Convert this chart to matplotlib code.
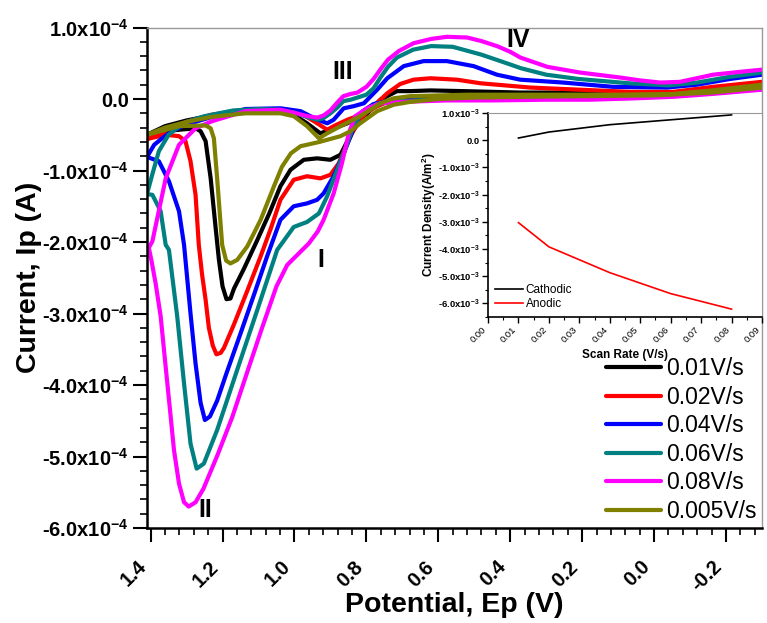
import numpy as np
import matplotlib
matplotlib.use("Agg")
import matplotlib.pyplot as plt
from matplotlib.ticker import MultipleLocator, FuncFormatter

plt.rcParams.update({
    "font.family": ["Liberation Sans", "DejaVu Sans"],
    "mathtext.fontset": "custom",
    "mathtext.rm": "Liberation Sans",
    "mathtext.bf": "Liberation Sans:bold",
    "mathtext.it": "Liberation Sans:italic",
    "mathtext.default": "bf",
})

SCALE = 1e-4  # currents below are in units of 1e-4 A

# ---- 0.01 V/s (black) ----
pot_001 = [-0.30, -0.16, -0.05, 0.10, 0.30, 0.372, 0.53, 0.622, 0.678, 0.715, 0.761, 0.798, 0.853, 0.90, 0.928,
           0.965, 1.002, 1.039, 1.136, 1.23, 1.30, 1.36, 1.41,
           1.36, 1.321, 1.275, 1.261, 1.247, 1.233, 1.219, 1.21, 1.20, 1.189, 1.178, 1.168, 1.141, 1.104, 1.07,
           1.039, 1.011, 0.974, 0.937, 0.90, 0.872, 0.853, 0.835, 0.81, 0.78, 0.75, 0.70, 0.60, 0.45, 0.30, 0.10,
           -0.05, -0.16, -0.30]
cur_001 = [0.23, 0.15, 0.09, 0.09, 0.09, 0.09, 0.11, 0.12, 0.11, 0.11, -0.01, -0.20, -0.34, -0.43, -0.48,
           -0.34, -0.22, -0.17, -0.17, -0.23, -0.30, -0.38, -0.50,
           -0.45, -0.43, -0.41, -0.45, -0.59, -1.11, -1.81, -2.25, -2.62, -2.80, -2.79, -2.65, -2.38, -1.98, -1.60,
           -1.22, -0.99, -0.85, -0.83, -0.85, -0.78, -0.59, -0.43, -0.25, -0.12, -0.05, -0.01, 0.01, 0.02, 0.03, 0.04,
           0.06, 0.10, 0.16]

# ---- 0.02 V/s (red) ----
pot_002 = [-0.30, -0.164, -0.053, 0.067, 0.206, 0.344, 0.483, 0.548, 0.622, 0.669, 0.706, 0.742, 0.78, 0.826,
           0.853, 0.891, 0.909, 0.946, 0.983, 1.039, 1.136, 1.23, 1.30, 1.35, 1.41,
           1.358, 1.321, 1.303, 1.289, 1.275, 1.266, 1.257, 1.247, 1.238, 1.227, 1.217, 1.205, 1.196, 1.168, 1.131,
           1.094, 1.065, 1.039, 1.002, 0.965, 0.928, 0.90, 0.877, 0.853, 0.84, 0.82, 0.80, 0.77, 0.74, 0.60, 0.45,
           0.30, 0.10, -0.05, -0.16, -0.30]
cur_002 = [0.24, 0.17, 0.10, 0.10, 0.13, 0.16, 0.22, 0.27, 0.29, 0.27, 0.21, 0.08, -0.10, -0.24,
           -0.29, -0.38, -0.43, -0.31, -0.20, -0.15, -0.15, -0.22, -0.32, -0.42, -0.56,
           -0.50, -0.52, -0.59, -0.87, -1.34, -2.04, -2.45, -2.81, -3.20, -3.45, -3.57, -3.55, -3.48, -3.15, -2.68,
           -2.20, -1.80, -1.41, -1.13, -1.08, -1.11, -1.06, -0.90, -0.62, -0.48, -0.30, -0.19, -0.10, -0.04, 0.00, 0.02,
           0.03, 0.04, 0.06, 0.10, 0.16]

# ---- 0.04 V/s (blue) ----
pot_004 = [-0.30, -0.211, -0.119, -0.036, 0.114, 0.253, 0.372, 0.437, 0.502, 0.576, 0.641, 0.696, 0.742, 0.77,
           0.807, 0.835, 0.863, 0.891, 0.909, 0.94, 0.983, 1.039, 1.136, 1.229, 1.303, 1.34, 1.368, 1.39, 1.41,
           1.377, 1.349, 1.321, 1.307, 1.289, 1.275, 1.261, 1.249, 1.235, 1.215, 1.19, 1.15, 1.11, 1.076, 1.039,
           1.002, 0.965, 0.937, 0.919, 0.891, 0.863, 0.844, 0.83, 0.81, 0.78, 0.74, 0.60, 0.45, 0.30, 0.10, -0.05,
           -0.16, -0.30]
cur_004 = [0.34, 0.28, 0.20, 0.16, 0.17, 0.23, 0.27, 0.34, 0.46, 0.53, 0.53, 0.46, 0.29, 0.13,
           -0.06, -0.10, -0.13, -0.29, -0.34, -0.28, -0.17, -0.13, -0.14, -0.25, -0.36, -0.45, -0.55, -0.64, -0.81,
           -0.87, -1.15, -1.57, -2.04, -3.00, -3.70, -4.25, -4.49, -4.44, -4.22, -3.85, -3.28, -2.70, -2.20, -1.69,
           -1.50, -1.46, -1.41, -1.32, -1.08, -0.76, -0.52, -0.33, -0.17, -0.07, -0.03, -0.01, 0.01, 0.02, 0.03, 0.05,
           0.09, 0.15]

# ---- 0.06 V/s (teal) ----
pot_006 = [-0.30, -0.21, -0.12, -0.04, 0.07, 0.21, 0.30, 0.37, 0.41, 0.48, 0.56, 0.62, 0.67, 0.715, 0.74, 0.761,
           0.78, 0.80, 0.825, 0.844, 0.864, 0.881, 0.90, 0.92, 0.936, 0.96, 1.00, 1.04, 1.10, 1.17, 1.25, 1.30, 1.32,
           1.35, 1.377, 1.395, 1.41,
           1.395, 1.372, 1.358, 1.349, 1.326, 1.307, 1.289, 1.272, 1.252, 1.215, 1.16, 1.10, 1.048, 1.002, 0.965,
           0.932, 0.909, 0.881, 0.853, 0.84, 0.82, 0.80, 0.77, 0.72, 0.60, 0.45, 0.30, 0.10, -0.05, -0.16, -0.30]
cur_006 = [0.37, 0.31, 0.23, 0.19, 0.22, 0.28, 0.34, 0.43, 0.50, 0.62, 0.73, 0.74, 0.69, 0.58, 0.45, 0.30,
           0.15, 0.06, 0.02, -0.01, -0.03, -0.12, -0.20, -0.27, -0.29, -0.26, -0.19, -0.15, -0.14, -0.16, -0.24, -0.32,
           -0.38, -0.50, -0.73, -1.05, -1.33,
           -1.34, -1.57, -2.04, -2.11, -3.04, -3.98, -4.82, -5.17, -5.10, -4.63, -3.80, -2.90, -2.11, -1.79, -1.72,
           -1.60, -1.36, -0.99, -0.62, -0.43, -0.25, -0.14, -0.07, -0.03, -0.01, 0.00, 0.01, 0.02, 0.04, 0.08, 0.14]

# ---- 0.08 V/s (magenta) ----
pot_008 = [-0.30, -0.239, -0.164, -0.072, -0.017, 0.039, 0.094, 0.206, 0.297, 0.372, 0.40, 0.437, 0.48, 0.52,
           0.576, 0.62, 0.669, 0.71, 0.74, 0.76, 0.78, 0.80, 0.825, 0.844, 0.864, 0.881, 0.90, 0.919, 0.936, 0.964,
           1.003, 1.039, 1.136, 1.229, 1.275, 1.321, 1.358, 1.395, 1.405,
           1.398, 1.386, 1.372, 1.358, 1.346, 1.335, 1.321, 1.307, 1.294, 1.275, 1.253, 1.214, 1.173, 1.13, 1.09,
           1.05, 1.02, 0.99, 0.96, 0.935, 0.919, 0.891, 0.868, 0.849, 0.831, 0.798, 0.761, 0.70, 0.575, 0.45, 0.30,
           0.18, 0.05, -0.05, -0.16, -0.30]
cur_008 = [0.41, 0.38, 0.34, 0.24, 0.23, 0.26, 0.30, 0.37, 0.45, 0.58, 0.66, 0.74, 0.81, 0.86,
           0.87, 0.84, 0.78, 0.67, 0.55, 0.42, 0.28, 0.17, 0.09, 0.07, 0.04, -0.05, -0.16, -0.23, -0.26, -0.24,
           -0.19, -0.15, -0.17, -0.31, -0.41, -0.64, -1.11, -1.99, -2.08,
           -2.25, -2.58, -3.04, -3.75, -4.35, -4.91, -5.38, -5.64, -5.70, -5.64, -5.45, -4.98, -4.45, -3.80, -3.20,
           -2.62, -2.32, -2.17, -2.02, -1.85, -1.69, -1.32, -0.90, -0.48, -0.24, -0.13, -0.06, -0.04, -0.02, -0.02,
           -0.01, -0.01, 0.01, 0.03, 0.07, 0.13]

# ---- 0.005 V/s (olive) ----
pot_0005 = [-0.30, -0.16, -0.05, 0.10, 0.30, 0.45, 0.52, 0.60, 0.678, 0.724, 0.761, 0.817, 0.872, 0.909, 0.932,
            0.965, 1.002, 1.039, 1.136, 1.23, 1.30, 1.36, 1.41,
            1.321, 1.247, 1.233, 1.224, 1.215, 1.201, 1.19, 1.178, 1.159, 1.131, 1.094, 1.057, 1.035, 1.01, 0.983,
            0.93, 0.872, 0.844, 0.817, 0.77, 0.724, 0.678, 0.60, 0.50, 0.37, 0.20, 0.00, -0.16, -0.30]
cur_0005 = [0.20, 0.12, 0.07, 0.06, 0.06, 0.06, 0.06, 0.05, 0.04, 0.01, -0.06, -0.24, -0.38, -0.48, -0.55,
            -0.38, -0.24, -0.20, -0.20, -0.25, -0.32, -0.40, -0.50,
            -0.38, -0.37, -0.41, -0.55, -1.11, -2.04, -2.26, -2.30, -2.25, -2.06, -1.69, -1.22, -0.95, -0.76, -0.66,
            -0.60, -0.52, -0.45, -0.34, -0.17, -0.08, -0.04, 0.00, 0.02, 0.03, 0.04, 0.05, 0.09, 0.16]

labels = ["0.01V/s", "0.02V/s", "0.04V/s", "0.06V/s", "0.08V/s", "0.005V/s"]
colors = ["#000000", "#ff0000", "#0000ff", "#008080", "#ff00ff", "#808000"]
pots = [pot_001, pot_002, pot_004, pot_006, pot_008, pot_0005]
curs = [cur_001, cur_002, cur_004, cur_006, cur_008, cur_0005]

# ---- inset data ----
scan_rate = [0.01, 0.02, 0.04, 0.06, 0.08]
cathodic = [0.08e-3, 0.30e-3, 0.57e-3, 0.75e-3, 0.93e-3]
anodic = [-3.03e-3, -3.92e-3, -4.87e-3, -5.64e-3, -6.21e-3]

peak_labels = ["I", "II", "III", "IV"]
peak_pos = [(0.928, -2.25), (1.247, -5.75), (0.867, 0.38), (0.378, 0.83)]

W, H = 767, 623
fig = plt.figure(figsize=(W / 100, H / 100), dpi=100)
ax = fig.add_axes([147 / W, 1 - 528 / H, (762 - 147) / W, (528 - 27.5) / H])

for p, c, lab, col in zip(pots, curs, labels, colors):
    ax.plot(p, np.array(c) * SCALE, color=col, lw=3, label=lab, solid_joinstyle="round", solid_capstyle="round")

ax.set_xlim(1.41, -0.30)
ax.set_ylim(-6e-4, 1e-4)

ax.xaxis.set_major_locator(MultipleLocator(0.2))
ax.xaxis.set_minor_locator(MultipleLocator(0.04))
ax.yaxis.set_major_locator(MultipleLocator(1e-4))
ax.yaxis.set_minor_locator(MultipleLocator(0.2e-4))


def xfmt(v, pos):
    s = f"{v:.1f}"
    return "0.0" if s == "-0.0" else s


def yfmt(v, pos):
    m = v / 1e-4
    if abs(m) < 1e-9:
        return "0.0"
    return f"{m:.1f}x10$^{{-4}}$"


ax.xaxis.set_major_formatter(FuncFormatter(xfmt))
ax.yaxis.set_major_formatter(FuncFormatter(yfmt))
ax.tick_params(axis="both", which="major", direction="out", length=10, width=1.5, labelsize=14.5)
ax.tick_params(axis="both", which="minor", direction="out", length=5, width=1.2)
ax.tick_params(axis="y", pad=3)
ax.tick_params(axis="x", pad=11)
for t in ax.get_xticklabels():
    t.set_rotation(45)
    t.set_ha("right")
    t.set_fontweight("bold")
for t in ax.get_yticklabels():
    t.set_fontweight("bold")

for s in ["left", "bottom"]:
    ax.spines[s].set_linewidth(1.8)
    ax.spines[s].set_color("black")
for s in ["top", "right"]:
    ax.spines[s].set_linewidth(1.0)
    ax.spines[s].set_color("#999999")

ax.set_xlabel("Potential, Ep (V)", fontsize=20.5, fontweight="bold")
ax.set_ylabel("Current, Ip (A)", fontsize=20.5, fontweight="bold")
ax.yaxis.set_label_coords((42 - 147) / 615, 0.5)
ax.xaxis.set_label_coords(0.5, -(592 - 528) / 500.5)

for txt, (px, py) in zip(peak_labels, peak_pos):
    ax.text(px, py * SCALE, txt, fontsize=18, fontweight="bold", ha="center", va="center")

ax.legend(loc="lower right", bbox_to_anchor=(1.0065, -0.008), frameon=False, fontsize=16.5,
          handlelength=2.4, handletextpad=0.25, labelspacing=0.24, borderaxespad=0.0)

# ---- inset ----
ins = fig.add_axes([488 / W, 1 - 317 / H, (762 - 488) / W, (317 - 113) / H])
ins.plot(scan_rate, cathodic, color="black", lw=1.2, label="Cathodic")
ins.plot(scan_rate, anodic, color="red", lw=1.2, label="Anodic")
ins.set_xlim(0, 0.09)
ins.set_ylim(-6.5e-3, 1e-3)
ins.xaxis.set_major_locator(MultipleLocator(0.01))
ins.xaxis.set_minor_locator(MultipleLocator(0.005))
ins.yaxis.set_major_locator(MultipleLocator(1e-3))
ins.yaxis.set_minor_locator(MultipleLocator(0.5e-3))


def ixfmt(v, pos):
    return f"{v:.2f}"


def iyfmt(v, pos):
    m = v / 1e-3
    if abs(m) < 1e-9:
        return "0.0"
    return f"{m:.1f}x10$^{{-3}}$"


ins.xaxis.set_major_formatter(FuncFormatter(ixfmt))
ins.yaxis.set_major_formatter(FuncFormatter(iyfmt))
ins.tick_params(axis="both", which="major", direction="out", length=4, width=1.0, labelsize=6.8, pad=2)
ins.tick_params(axis="both", which="minor", direction="out", length=2, width=0.8)
for t in ins.get_xticklabels():
    t.set_rotation(45)
    t.set_ha("right")
for t in ins.get_yticklabels():
    t.set_fontweight("bold")
for s in ["left", "bottom"]:
    ins.spines[s].set_linewidth(1.2)
    ins.spines[s].set_color("black")
for s in ["top", "right"]:
    ins.spines[s].set_linewidth(0.8)
    ins.spines[s].set_color("#999999")
ins.set_xlabel("Scan Rate (V/s)", fontsize=8.5, fontweight="bold")
ins.xaxis.set_label_coords(0.5, -(349 - 317) / 204)
ins.set_ylabel("Current Density(A/m$^{2}$)", fontsize=8.5, fontweight="bold")
ins.yaxis.set_label_coords((438 - 488) / 274, 0.5)
ins.legend(loc="lower left", frameon=False, fontsize=8.5, handlelength=2.4, handletextpad=0.2,
           labelspacing=0.15, borderaxespad=0.2)

fig.savefig("out.png", dpi=100, facecolor="white")
